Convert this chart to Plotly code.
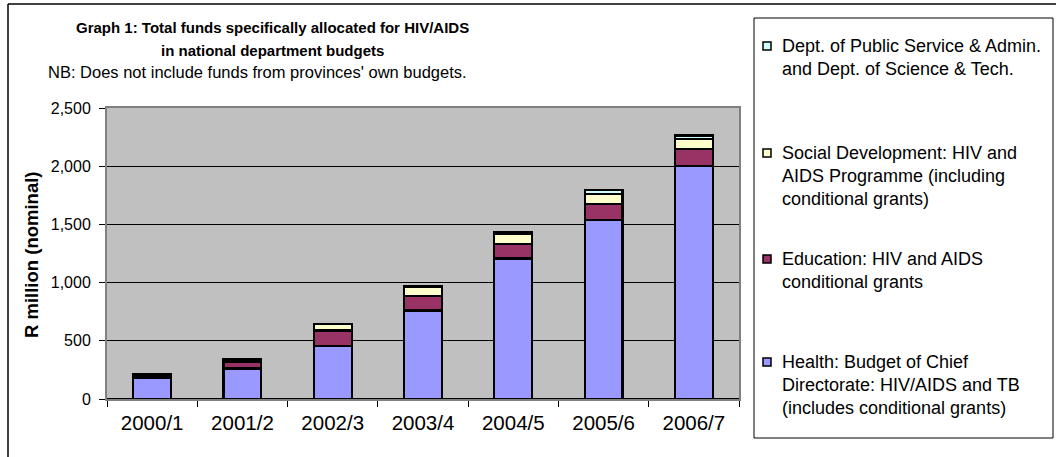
import plotly.graph_objects as go

years = ["2000/1", "2001/2", "2002/3", "2003/4", "2004/5", "2005/6", "2006/7"]
health = [180, 262, 457, 761, 1207, 1537, 2003]
education = [20, 60, 132, 127, 126, 141, 146]
social = [12, 22, 55, 75, 85, 81, 87]
other = [0, 0, 3, 5, 20, 35, 28]

series_names = [
    "Health: Budget of Chief<br>Directorate: HIV/AIDS and TB<br>(includes conditional grants)",
    "Education: HIV and AIDS<br>conditional grants",
    "Social Development: HIV and<br>AIDS Programme (including<br>conditional grants)",
    "Dept. of Public Service & Admin.<br>and Dept. of Science & Tech.",
]
series_values = [health, education, social, other]
colors = ["#9999FF", "#993366", "#FFFFCC", "#CCFFFF"]

W, H = 1056, 457
L, R, T, B = 107, 739, 108, 399
PW, PH = R - L, B - T


def px(x):
    return (x - L) / PW


def py(y):
    return (B - y) / PH


fig = go.Figure()
for name, vals, col in zip(series_names, series_values, colors):
    fig.add_trace(go.Bar(
        x=years, y=vals, name=name.replace("<br>", " "),
        marker=dict(color=col, line=dict(color="black", width=2.2)),
        showlegend=False,
    ))

FONT = "Liberation Sans, Arial, sans-serif"

shapes = [
    dict(type="line", xref="paper", yref="paper", x0=px(8), x1=px(1060), y0=py(4), y1=py(4),
         line=dict(color="black", width=1.5)),
    dict(type="line", xref="paper", yref="paper", x0=px(8), x1=px(8), y0=py(4), y1=py(460),
         line=dict(color="black", width=1.5)),
    dict(type="rect", xref="paper", yref="paper", x0=px(754), x1=px(1053), y0=py(18), y1=py(438),
         line=dict(color="black", width=1), fillcolor="white"),
]

annotations = [
    dict(text="<b>Graph 1: Total funds specifically allocated for HIV/AIDS</b>", x=px(272), y=py(27),
         xanchor="center", font=dict(family=FONT, size=15, color="black")),
    dict(text="<b>in national department budgets</b>", x=px(272), y=py(50),
         xanchor="center", font=dict(family=FONT, size=15, color="black")),
    dict(text="NB: Does not include funds from provinces' own budgets.", x=px(257), y=py(72),
         xanchor="center", font=dict(family=FONT, size=16.5, color="black")),
    dict(text="<b>R million (nominal)</b>", x=px(31), y=py(255), textangle=-90,
         xanchor="center", font=dict(family=FONT, size=18.5, color="black")),
]

legend_items = [
    (series_names[3], colors[3], 46),
    (series_names[2], colors[2], 153),
    (series_names[1], colors[1], 259),
    (series_names[0], colors[0], 362),
]
for name, col, y0 in legend_items:
    shapes.append(dict(type="rect", xref="paper", yref="paper",
                       x0=px(763), x1=px(771), y0=py(y0 - 4), y1=py(y0 + 4),
                       line=dict(color="black", width=1.5), fillcolor=col))
    for i, line in enumerate(name.split("<br>")):
        annotations.append(dict(text=line, x=px(780), y=py(y0 + 23 * i), xanchor="left",
                                font=dict(family=FONT, size=18, color="black")))

for a in annotations:
    a.setdefault("xref", "paper")
    a.setdefault("yref", "paper")
    a.setdefault("showarrow", False)
    a.setdefault("yanchor", "middle")

fig.update_layout(
    width=W, height=H,
    margin=dict(l=L, r=W - R, t=T, b=H - B, pad=0),
    barmode="stack", bargap=0.58,
    paper_bgcolor="white", plot_bgcolor="#C0C0C0",
    font=dict(family=FONT, color="black"),
    shapes=shapes, annotations=annotations,
    showlegend=False,
)
fig.update_xaxes(
    type="category", tickfont=dict(size=20.5), ticks="outside", ticklen=6, tickcolor="black",
    tickson="boundaries", showline=True, linecolor="#808080", linewidth=2, mirror=True,
    showgrid=False, ticklabelstandoff=4,
)
fig.update_yaxes(
    range=[0, 2500], dtick=500, tickformat=",", tickfont=dict(size=16), ticks="outside",
    ticklen=6, tickcolor="black", showline=True, linecolor="#808080", linewidth=2, mirror=True,
    gridcolor="black", gridwidth=1, zeroline=True, zerolinecolor="black", zerolinewidth=1.5,
    ticklabelstandoff=5,
)

fig.write_html("out.html")
